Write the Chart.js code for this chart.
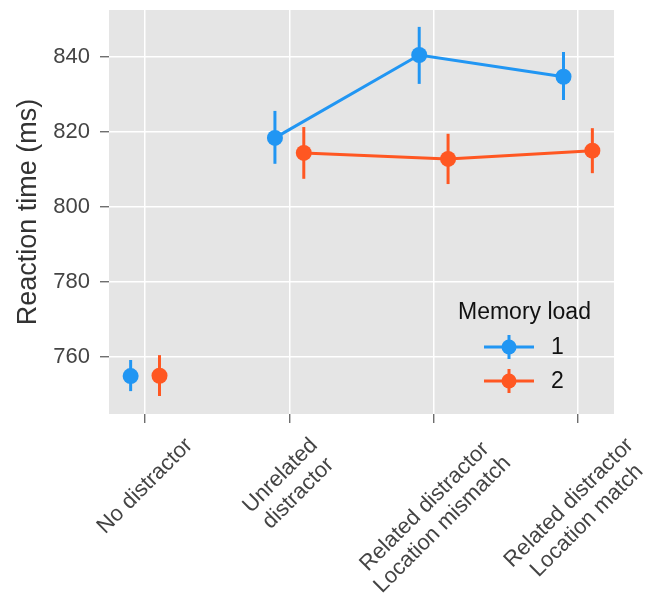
<!DOCTYPE html>
<html>
<head>
<meta charset="utf-8">
<script src="https://cdn.jsdelivr.net/npm/chart.js@4.4.1/dist/chart.umd.min.js"></script>
<style>
  html, body { margin: 0; padding: 0; background: #fff; }
  #wrap { width: 655px; height: 600px; }
</style>
</head>
<body>
<div id="wrap"><canvas id="myChart" width="655" height="600"></canvas></div>
<script>
// data
const categories = ['No distractor', ['Unrelated', 'distractor'], ['Related distractor', 'Location mismatch'], ['Related distractor', 'Location match']];
const yTicks = [760, 780, 800, 820, 840];
const seriesNames = ['1', '2'];

const load1 = [754.9, 818.4, 840.5, 834.7];
const load1Low = [750.9, 811.5, 832.8, 828.5];
const load1High = [759.2, 825.6, 848.0, 841.3];

const load2 = [755.0, 814.4, 812.8, 815.0];
const load2Low = [749.6, 807.5, 806.1, 809.0];
const load2High = [760.5, 821.3, 819.5, 821.0];

const blue = '#2196f3';
const orange = '#ff5722';
const dodge = 0.1;
const font = 'Liberation Sans, Arial, sans-serif';
const tickGrey = '#444';

function points(vals, low, high, shift) {
  return vals.map((v, i) => ({ x: i + shift, y: v, lo: low[i], hi: high[i] }));
}

// no line from the "No distractor" point
function hideFirst(ctx) {
  return ctx.p0DataIndex === 0 ? 'transparent' : undefined;
}

const bgPlugin = {
  id: 'bg',
  beforeDraw(chart) {
    const a = chart.chartArea, c = chart.ctx;
    c.save();
    c.fillStyle = '#e5e5e5';
    c.fillRect(a.left, a.top, a.right - a.left, a.bottom - a.top);
    c.restore();
  }
};

const errPlugin = {
  id: 'errbars',
  beforeDatasetsDraw(chart) {
    const c = chart.ctx, xs = chart.scales.x, ys = chart.scales.y;
    c.save();
    chart.data.datasets.forEach(ds => {
      c.strokeStyle = ds.borderColor;
      c.lineWidth = 3;
      ds.data.forEach(p => {
        const px = xs.getPixelForValue(p.x);
        c.beginPath();
        c.moveTo(px, ys.getPixelForValue(p.lo));
        c.lineTo(px, ys.getPixelForValue(p.hi));
        c.stroke();
      });
    });
    c.restore();
  }
};

// rotated x labels, centred under the tick (matplotlib style)
const xLabelPlugin = {
  id: 'xlabels',
  afterDraw(chart) {
    const c = chart.ctx, xs = chart.scales.x, a = chart.chartArea;
    const size = 22, lh = size * 1.15, top = a.bottom + 19;
    c.save();
    c.font = size + 'px ' + font;
    c.fillStyle = tickGrey;
    c.textAlign = 'center';
    c.textBaseline = 'middle';
    categories.forEach((lab, i) => {
      const lines = Array.isArray(lab) ? lab : [lab];
      const w = Math.max(...lines.map(l => c.measureText(l).width));
      const h = lines.length * lh;
      const half = (w + h) * Math.SQRT1_2 / 2;
      c.save();
      c.translate(xs.getPixelForValue(i), top + half);
      c.rotate(-Math.PI / 4);
      lines.forEach((l, j) => c.fillText(l, 0, (j - (lines.length - 1) / 2) * lh));
      c.restore();
    });
    c.restore();
  }
};

const legendPlugin = {
  id: 'memLegend',
  afterDraw(chart) {
    const c = chart.ctx, a = chart.chartArea;
    const x0 = a.right - 156, y0 = a.bottom - 101;
    c.save();
    c.fillStyle = '#111';
    c.font = '23px ' + font;
    c.textBaseline = 'middle';
    c.textAlign = 'left';
    c.fillText('Memory load', x0, y0);
    chart.data.datasets.forEach((ds, i) => {
      const y = y0 + 34 + i * 34;
      c.strokeStyle = ds.borderColor;
      c.fillStyle = ds.borderColor;
      c.lineWidth = 3;
      c.beginPath();
      c.moveTo(x0 + 26, y); c.lineTo(x0 + 76, y);
      c.moveTo(x0 + 51, y - 12); c.lineTo(x0 + 51, y + 12);
      c.stroke();
      c.beginPath();
      c.arc(x0 + 51, y, 7.5, 0, Math.PI * 2);
      c.fill();
      c.fillStyle = '#111';
      c.fillText(ds.label, x0 + 93, y + 1);
    });
    c.restore();
  }
};

const data = {
  datasets: [{
    label: seriesNames[0],
    data: points(load1, load1Low, load1High, -dodge),
    borderColor: blue,
    backgroundColor: blue,
    borderWidth: 3,
    pointRadius: 8,
    pointHoverRadius: 8,
    pointBorderWidth: 0,
    segment: { borderColor: hideFirst }
  }, {
    label: seriesNames[1],
    data: points(load2, load2Low, load2High, dodge),
    borderColor: orange,
    backgroundColor: orange,
    borderWidth: 3,
    pointRadius: 8,
    pointHoverRadius: 8,
    pointBorderWidth: 0,
    segment: { borderColor: hideFirst }
  }]
};

const config = {
  type: 'line',
  data: data,
  plugins: [bgPlugin, errPlugin, xLabelPlugin, legendPlugin],
  options: {
    responsive: false,
    animation: false,
    layout: { padding: { top: 10, right: 41, left: 0, bottom: 0 } },
    plugins: { legend: { display: false }, tooltip: { enabled: false } },
    scales: {
      x: {
        type: 'linear',
        min: -0.25,
        max: 3.25,
        afterBuildTicks(scale) {
          scale.ticks = categories.map((c, i) => ({ value: i }));
        },
        afterFit(scale) {
          scale.height = 186;
          scale.paddingLeft = 0;
          scale.paddingRight = 0;
        },
        border: { display: false },
        grid: { color: '#ffffff', lineWidth: 1.5, tickColor: '#555', tickLength: 9, tickWidth: 1.2 },
        ticks: { display: false }
      },
      y: {
        min: 744.8,
        max: 852.5,
        afterBuildTicks(scale) {
          scale.ticks = yTicks.map(v => ({ value: v }));
        },
        afterFit(scale) {
          scale.width = 109;
          scale.paddingTop = 0;
          scale.paddingBottom = 0;
        },
        border: { display: false },
        grid: { color: '#ffffff', lineWidth: 1.5, tickColor: '#555', tickLength: 9, tickWidth: 1.2 },
        ticks: {
          padding: 10,
          color: tickGrey,
          font: { family: font, size: 22 }
        },
        title: {
          display: true,
          text: 'Reaction time (ms)',
          color: '#333',
          padding: { top: 12, bottom: 0 },
          font: { family: font, size: 27 }
        }
      }
    }
  }
};

const myChart = new Chart(document.getElementById('myChart'), config);
</script>
</body>
</html>
